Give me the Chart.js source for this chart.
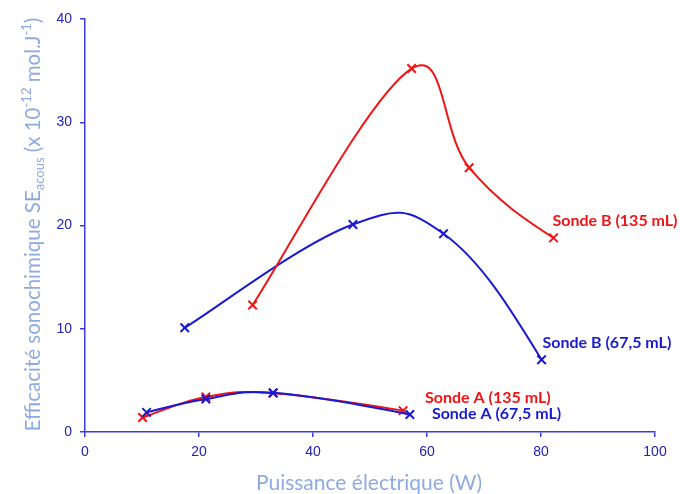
<!DOCTYPE html>
<html><head><meta charset="utf-8">
<script src="https://cdn.jsdelivr.net/npm/chart.js@4/dist/chart.umd.min.js"></script>
<style>html,body{margin:0;padding:0;background:#fff}#wrap{width:680px;height:494px}</style>
</head><body><div id="wrap"><canvas id="c" width="680" height="494"></canvas></div>
<script>
// ---- data ----
const xTicks = [0, 20, 40, 60, 80, 100];
const yTicks = [0, 10, 20, 30, 40];
const seriesNames = ["Sonde B (135 mL)", "Sonde B (67,5 mL)", "Sonde A (135 mL)", "Sonde A (67,5 mL)"];
const sondeB135X = [29.4, 57.3, 67.4, 82.2];
const sondeB135Y = [12.3, 35.2, 25.6, 18.8];
const sondeB675X = [17.5, 47.0, 62.9, 80.1];
const sondeB675Y = [10.1, 20.1, 19.2, 7.0];
const sondeA135X = [10.1, 21.2, 33.0, 55.8];
const sondeA135Y = [1.4, 3.4, 3.75, 2.07];
const sondeA675X = [10.8, 21.2, 33.0, 57.0];
const sondeA675Y = [1.9, 3.2, 3.8, 1.7];
const xTitle = "Puissance électrique (W)";
const yTitleParts = [["Efficacité sonochimique SE", 0], ["acous", -1], [" (x 10", 0], ["-12", 1], [" mol.J", 0], ["-1", 1], [")", 0]];

// ---- styles ----
const RED = "#f01414", BLUE = "#1a1ad2", AXIS = "#3c3cdc", TICK = "#2222b4", TITLE = "#8eaae2";
const labelOffsets = [[-1, -17], [1, -17], [22, -13], [22, -1]];
const TENSION = 0.55, CAP = 0.2;

function pts(xs, ys) { return xs.map((x, i) => ({ x: x, y: ys[i] })); }
function ds(i, xs, ys, color, order) {
  return {
    label: seriesNames[i], data: pts(xs, ys), borderColor: color, backgroundColor: color,
    borderWidth: 2, tension: 0.4, pointStyle: "crossRot", pointRadius: 6, pointBorderWidth: 2,
    pointHoverRadius: 6, order: order, clip: false
  };
}

// spreadsheet-like smoothing of the library's pixel positions
const smoothPlugin = {
  id: "sheetSmooth",
  beforeDatasetDraw(chart, args) {
    const meta = args.meta;
    const p = meta.data;
    const n = p.length;
    if (n < 2) return;
    const dist = (a, b) => Math.hypot(b.x - a.x, b.y - a.y);
    for (let i = 1; i < n - 1; i++) {
      const d01 = dist(p[i - 1], p[i]), d12 = dist(p[i], p[i + 1]);
      const s01 = d01 / (d01 + d12), s12 = d12 / (d01 + d12);
      const fa = Math.min(TENSION * s01, CAP), fb = Math.min(TENSION * s12, CAP);
      const tx = p[i + 1].x - p[i - 1].x, ty = p[i + 1].y - p[i - 1].y;
      p[i].cp1x = p[i].x - fa * tx; p[i].cp1y = p[i].y - fa * ty;
      p[i].cp2x = p[i].x + fb * tx; p[i].cp2y = p[i].y + fb * ty;
    }
    p[0].cp2x = p[0].x + (p[1].x - p[0].x) * CAP;
    p[0].cp2y = p[0].y + (p[1].y - p[0].y) * CAP;
    p[0].cp1x = p[0].x; p[0].cp1y = p[0].y;
    const a = p[n - 2], b = p[n - 1];
    const ax = n > 2 ? a.cp2x : a.x, ay = n > 2 ? a.cp2y : a.y;
    b.cp1x = b.x + (ax - b.x) / 2; b.cp1y = b.y + (ay - b.y) / 2;
    b.cp2x = b.x; b.cp2y = b.y;
    meta.dataset.updateControlPoints = function () {};
    meta.dataset._pointsUpdated = true;
    meta.dataset._path = undefined;
  }
};

const titlesPlugin = {
  id: "titles",
  afterDraw(chart) {
    const ctx = chart.ctx;
    const ca = chart.chartArea;
    ctx.save();
    ctx.fillStyle = TITLE;
    ctx.font = "21px Lato";
    ctx.textAlign = "center";
    ctx.textBaseline = "alphabetic";
    ctx.fillText(xTitle, (ca.left + ca.right) / 2 - 1, 490);
    ctx.restore();
    ctx.save();
    const big = "20.5px Lato", small = "13px Lato";
    let total = 0;
    const widths = yTitleParts.map(p => { ctx.font = p[1] === 0 ? big : small; const w = ctx.measureText(p[0]).width; total += w; return w; });
    ctx.translate(40, (ca.top + ca.bottom) / 2 - 1);
    ctx.rotate(-Math.PI / 2);
    ctx.fillStyle = TITLE;
    ctx.textAlign = "left";
    ctx.textBaseline = "alphabetic";
    let x = -total / 2;
    yTitleParts.forEach((p, i) => {
      ctx.font = p[1] === 0 ? big : small;
      const dy = p[1] === -1 ? 4 : (p[1] === 1 ? -9 : 0);
      ctx.fillText(p[0], x, dy);
      x += widths[i];
    });
    ctx.restore();
    ctx.save();
    ctx.font = "bold 16px Lato";
    ctx.textAlign = "left";
    ctx.textBaseline = "middle";
    chart.data.datasets.forEach((d, i) => {
      const meta = chart.getDatasetMeta(i);
      const last = meta.data[meta.data.length - 1];
      ctx.fillStyle = d.borderColor;
      ctx.fillText(d.label, last.x + labelOffsets[i][0], last.y + labelOffsets[i][1]);
    });
    ctx.restore();
  }
};

new Chart(document.getElementById("c"), {
  type: "line",
  data: {
    datasets: [
      ds(0, sondeB135X, sondeB135Y, RED, 1),
      ds(1, sondeB675X, sondeB675Y, BLUE, 3),
      ds(2, sondeA135X, sondeA135Y, RED, 2),
      ds(3, sondeA675X, sondeA675Y, BLUE, 0)
    ]
  },
  options: {
    responsive: false, animation: false, devicePixelRatio: 1,
    layout: { padding: { top: 19, right: 25, left: 0, bottom: 0 } },
    plugins: { legend: { display: false }, tooltip: { enabled: false } },
    scales: {
      x: {
        type: "linear", min: 0, max: 100,
        afterBuildTicks: s => { s.ticks = xTicks.map(v => ({ value: v })); },
        afterFit: s => { s.height = 62; },
        grid: { drawOnChartArea: false, drawTicks: true, tickLength: 5, color: AXIS, lineWidth: 1.5 },
        border: { color: AXIS, width: 1.5 },
        ticks: { color: TICK, font: { family: "Liberation Sans", size: 14 }, padding: 7, maxRotation: 0 }
      },
      y: {
        type: "linear", min: 0, max: 40,
        afterBuildTicks: s => { s.ticks = yTicks.map(v => ({ value: v })); },
        afterFit: s => { s.width = 85; },
        grid: { drawOnChartArea: false, drawTicks: true, tickLength: 5, color: AXIS, lineWidth: 1.5 },
        border: { color: AXIS, width: 1.5 },
        ticks: { color: TICK, font: { family: "Liberation Sans", size: 14 }, padding: 8 }
      }
    }
  },
  plugins: [smoothPlugin, titlesPlugin]
});
</script></body></html>
